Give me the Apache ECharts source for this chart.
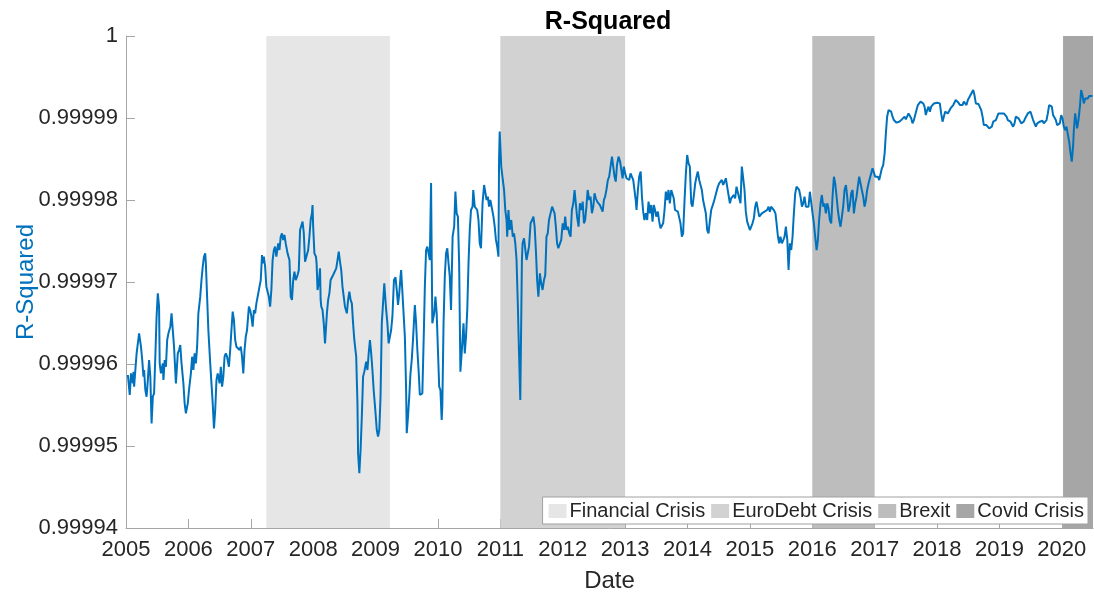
<!DOCTYPE html>
<html>
<head>
<meta charset="utf-8">
<script src="https://cdn.jsdelivr.net/npm/echarts@6/dist/echarts.min.js"></script>
<style>
html,body{margin:0;padding:0;background:#fff;}
#chart{width:1094px;height:602px;}
</style>
</head>
<body>
<div id="chart"></div>
<script>
// Decimal-year dates of the R-Squared series
const dates = [
2005.03,2005.05,2005.06,2005.08,2005.11,2005.12,2005.13,2005.15,2005.17,2005.19,
2005.21,2005.24,2005.26,2005.28,2005.29,2005.31,2005.33,2005.35,2005.37,2005.39,
2005.41,2005.43,2005.45,2005.47,2005.49,2005.51,2005.53,2005.54,2005.56,2005.59,
2005.60,2005.62,2005.64,2005.66,2005.68,2005.71,2005.73,2005.75,2005.77,2005.80,
2005.83,2005.85,2005.87,2005.89,2005.92,2005.94,2005.96,2005.99,2006.01,2006.04,
2006.06,2006.08,2006.10,2006.12,2006.14,2006.16,2006.19,2006.21,2006.23,2006.25,
2006.27,2006.28,2006.30,2006.32,2006.35,2006.37,2006.39,2006.41,2006.43,2006.45,
2006.47,2006.50,2006.52,2006.54,2006.56,2006.58,2006.60,2006.62,2006.65,2006.67,
2006.69,2006.71,2006.73,2006.75,2006.77,2006.79,2006.82,2006.84,2006.86,2006.88,
2006.90,2006.92,2006.94,2006.97,2006.99,2007.01,2007.03,2007.05,2007.07,2007.09,
2007.12,2007.14,2007.16,2007.18,2007.19,2007.21,2007.23,2007.25,2007.29,2007.31,
2007.33,2007.35,2007.37,2007.39,2007.41,2007.44,2007.46,2007.48,2007.50,2007.52,
2007.54,2007.56,2007.59,
2007.62,2007.64,2007.66,2007.68,2007.70,2007.72,2007.75,2007.77,2007.79,2007.81,
2007.83,2007.85,2007.87,2007.90,2007.92,2007.94,2007.96,2007.98,2007.99,2008.00,
2008.02,2008.045,2008.055,2008.07,2008.09,2008.11,2008.12,2008.13,2008.15,2008.17,
2008.19,2008.22,2008.24,2008.26,2008.28,2008.30,2008.32,2008.34,2008.37,2008.39,
2008.41,2008.43,2008.45,2008.47,2008.49,2008.51,2008.54,2008.56,2008.58,2008.60,
2008.62,2008.64,2008.66,2008.69,2008.71,2008.72,2008.74,2008.76,2008.78,2008.80,
2008.82,2008.85,2008.87,2008.89,2008.91,2008.93,2008.95,2008.97,2008.996,2009.02,
2009.04,2009.06,2009.08,2009.10,2009.12,2009.14,2009.17,2009.19,2009.21,2009.23,
2009.25,2009.27,2009.295,2009.32,2009.34,2009.36,2009.38,2009.40,2009.41,2009.43,
2009.44,2009.47,2009.49,2009.50,2009.52,2009.54,2009.56,2009.58,2009.60,2009.63,
2009.65,2009.67,2009.69,2009.71,2009.73,2009.75,2009.775,2009.79,2009.81,2009.83,
2009.85,2009.87,2009.88,2009.89,2009.90,2009.91,2009.94,2009.96,2009.98,2010.00,
2010.02,2010.04,2010.06,2010.07,2010.09,2010.11,2010.13,2010.15,2010.17,2010.19,
2010.21,
2010.235,2010.26,2010.28,2010.30,2010.32,2010.34,2010.36,2010.38,2010.41,2010.43,
2010.45,2010.47,2010.49,2010.51,2010.53,2010.555,2010.566,2010.59,2010.61,2010.63,
2010.65,2010.67,2010.69,2010.715,2010.74,2010.76,2010.78,2010.80,2010.82,2010.84,
2010.865,2010.89,2010.91,2010.93,2010.95,2010.97,2010.98,2010.99,2011.015,2011.04,
2011.06,2011.08,2011.10,2011.11,2011.13,2011.15,2011.175,2011.20,2011.22,2011.24,
2011.26,2011.28,2011.30,2011.32,2011.335,2011.346,2011.357,2011.38,2011.40,2011.42,
2011.44,2011.46,2011.485,2011.51,2011.53,2011.55,2011.57,2011.59,2011.61,2011.634,
2011.655,2011.677,2011.70,2011.72,2011.74,2011.76,2011.78,2011.805,2011.83,2011.85,
2011.87,2011.89,2011.91,2011.93,2011.955,2011.976,2012.00,2012.02,2012.04,2012.06,
2012.083,2012.105,2012.126,2012.147,2012.17,2012.19,2012.21,2012.23,2012.254,2012.275,
2012.30,2012.32,2012.34,2012.36,2012.38,2012.40,2012.425,2012.446,2012.468,2012.49,
2012.51,2012.53,2012.553,2012.575,2012.596,2012.617,2012.64,2012.66,2012.68,2012.70,
2012.724,2012.745,2012.767,2012.79,
2012.81,2012.83,2012.85,2012.87,2012.895,2012.92,2012.94,2012.96,2012.98,2013.00,
2013.023,2013.045,2013.066,2013.087,2013.11,2013.13,2013.15,2013.173,2013.183,2013.205,
2013.226,2013.25,2013.27,2013.29,2013.31,2013.333,2013.354,2013.376,2013.397,2013.418,
2013.44,2013.46,2013.48,2013.50,2013.525,2013.547,2013.568,2013.59,2013.61,2013.632,
2013.653,2013.675,2013.696,2013.717,2013.74,2013.76,2013.78,2013.80,2013.824,2013.846,
2013.867,2013.888,2013.91,2013.93,2013.953,2013.974,2013.995,2014.017,2014.038,2014.06,
2014.08,2014.10,2014.124,2014.145,2014.166,2014.188,2014.21,2014.23,2014.25,2014.273,
2014.294,2014.316,2014.337,2014.36,2014.38,2014.40,2014.423,2014.444,2014.465,2014.487,
2014.508,2014.53,2014.55,2014.572,2014.594,2014.615,2014.636,2014.658,2014.68,2014.70,
2014.72,2014.743,2014.764,2014.786,2014.807,2014.829,2014.85,2014.871,2014.89,2014.914,
2014.935,2014.957,2014.978,2015.00,2015.02,2015.042,2015.064,2015.085,2015.106,2015.128,
2015.15,2015.17,2015.192,2015.213,2015.235,2015.256,2015.277,2015.30,2015.32,2015.341,
2015.362,2015.384,
2015.41,2015.428,2015.45,2015.47,2015.49,2015.513,2015.535,2015.556,2015.577,2015.60,
2015.62,2015.641,2015.663,2015.684,2015.705,2015.727,2015.748,2015.77,2015.79,2015.812,
2015.834,2015.855,2015.876,2015.898,2015.919,2015.94,2015.962,2015.983,2016.005,2016.026,
2016.047,2016.07,2016.09,2016.11,2016.133,2016.154,2016.176,2016.197,2016.218,2016.24,
2016.26,2016.282,2016.304,2016.325,2016.347,2016.368,2016.39,2016.41,2016.432,2016.453,
2016.475,2016.496,2016.517,2016.54,2016.56,2016.58,2016.603,2016.624,2016.646,2016.667,
2016.688,2016.71,2016.73,2016.752,2016.774,2016.795,2016.817,2016.838,2016.86,2016.88,
2016.902,2016.923,2016.945,2016.966,2016.988,2017.009,2017.03,2017.052,2017.073,2017.094,
2017.116,2017.137,2017.16,2017.18,2017.20,2017.223,2017.244,2017.265,2017.287,2017.308,
2017.33,2017.35,2017.372,2017.394,2017.415,2017.436,2017.458,2017.48,2017.50,2017.52,
2017.543,2017.565,2017.586,2017.607,2017.629,2017.65,2017.671,2017.693,2017.714,2017.735,
2017.757,2017.778,2017.80,2017.82,2017.842,2017.864,2017.885,2017.906,2017.928,2017.95,
2017.97,2018.00,
2018.024,2018.045,2018.066,2018.088,2018.11,2018.13,2018.152,2018.173,2018.195,2018.216,
2018.237,2018.26,2018.28,2018.30,2018.323,2018.344,2018.366,2018.387,2018.408,2018.43,
2018.45,2018.472,2018.494,2018.515,2018.537,2018.558,2018.58,2018.60,2018.622,2018.643,
2018.665,2018.686,2018.708,2018.73,2018.75,2018.77,2018.793,2018.814,2018.836,2018.857,
2018.878,2018.90,2018.921,2018.943,2018.964,2018.985,2019.007,2019.028,2019.05,2019.071,
2019.092,2019.114,2019.135,2019.156,2019.178,2019.20,2019.22,2019.242,2019.263,2019.285,
2019.306,2019.327,2019.35,2019.37,2019.39,2019.413,2019.434,2019.455,2019.477,2019.498,
2019.52,2019.54,2019.562,2019.584,2019.605,2019.626,2019.648,2019.67,2019.69,2019.712,
2019.733,2019.755,2019.776,2019.797,2019.82,2019.84,2019.86,2019.883,2019.904,2019.925,
2019.947,2019.968,2019.99,2020.011,2020.032,2020.054,2020.075,2020.097,2020.118,2020.14,
2020.16,2020.171,2020.182,2020.193,2020.214,2020.235,2020.246,2020.267,2020.29,2020.31,
2020.331,2020.353,2020.374,2020.396,2020.417,2020.438,2020.47,2020.492
];

// R-Squared values
const rSquared = [
0.99995866,0.99995845,0.99995622,0.99995886,0.99995764,0.99995906,0.99995723,0.99995927,0.9999613,0.9999615,
0.99996374,0.99996211,0.99996049,0.99995845,0.99995927,0.99995683,0.99995601,0.99995805,0.99996049,0.99995845,
0.99995276,0.99995601,0.99995642,0.99996089,0.99996577,0.99996862,0.99996699,0.99996008,0.99995886,0.99996008,
0.99995805,0.99996049,0.99995967,0.99996293,0.99996374,0.99996455,0.99996618,0.99996414,0.99996211,0.99995764,
0.9999613,0.99996171,0.99996232,0.99996008,0.99995764,0.9999552,0.99995398,0.9999552,0.99995683,0.99995886,
0.99996089,0.99995927,0.9999613,0.99996008,0.99996211,0.99996618,0.99996821,0.99997024,0.99997187,0.99997309,
0.99997349,0.99997227,0.99996821,0.99996414,0.99996008,0.99995764,0.9999552,0.99995215,0.99995439,0.99995805,
0.99995886,0.99995764,0.99995967,0.99995723,0.99995845,0.99996089,0.9999613,0.99996089,0.99995967,0.99996171,
0.99996414,0.99996638,0.99996536,0.99996293,0.99996211,0.99996232,0.99996171,0.99996211,0.99996089,0.99995886,
0.99996171,0.99996333,0.99996414,0.99996699,0.99996658,0.99996577,0.99996455,0.99996658,0.99996618,0.9999674,
0.99996862,0.99996943,0.99997024,0.99997329,0.99997227,0.99997309,0.99997187,0.99996943,0.99996821,0.99996699,
0.99996902,0.99997268,0.9999739,0.99997431,0.99997309,0.99997471,0.9999739,0.99997553,0.99997593,0.99997512,
0.99997573,0.99997471,0.99997349,
0.99997268,0.99996821,0.99996781,0.99997024,0.99997126,0.99997024,0.99997085,0.99997146,0.99997634,0.99997655,
0.99997736,0.99997594,0.99997248,0.99997268,0.9999739,0.99997553,0.99997756,0.99997837,0.99997939,0.99997675,
0.9999735,0.99997309,0.99997228,0.99996902,0.99996984,0.99997167,0.99996781,0.99996699,0.99996659,0.99996496,
0.99996252,0.99996618,0.99996781,0.99996862,0.99997024,0.99997045,0.99997085,0.99997106,0.99997167,0.99997268,
0.9999737,0.99997248,0.99997146,0.99996943,0.99996943,0.99996699,0.99996618,0.99996781,0.99996882,0.99996781,
0.9999674,0.99996496,0.99996293,0.99996089,0.9999552,0.99994911,0.99994667,0.99994951,0.99995358,0.99995846,
0.99995907,0.99996029,0.99995927,0.9999613,0.99996293,0.9999613,0.99995927,0.99995683,0.99995439,0.99995195,
0.99995114,0.99995195,0.99995602,0.99996496,0.9999674,0.99996984,0.99996659,0.99996496,0.99996252,0.99996272,
0.99996415,0.99996577,0.99997024,0.99997057,0.99996902,0.9999672,0.99996862,0.99997065,0.99997146,0.99996882,
0.99996862,0.99996333,0.99995683,0.99995155,0.99995358,0.99995602,0.99995886,0.99996049,0.99996293,0.9999672,
0.99996496,0.99996171,0.99995927,0.99995622,0.99995642,0.99995642,0.99996415,0.99996943,0.9999739,0.99997431,
0.99997451,0.99997268,0.99997756,0.99998207,0.99997309,0.99996496,0.99996618,0.99996821,0.99996618,0.99996171,
0.99995724,0.99995683,0.99995317,0.9999548,0.99996496,0.99997065,0.9999735,0.99997411,0.99997228,0.99997065,
0.99996659,
0.99997553,0.99997675,0.99998102,0.99997838,0.99997797,0.99997228,0.99995907,0.9999613,0.99996496,0.9999613,
0.99996334,0.99996659,0.99997228,0.99997635,0.99997878,0.99997919,0.99998122,0.99997919,0.99997899,0.99997878,
0.99997756,0.99997472,0.99997411,0.9999796,0.99998183,0.99998204,0.99998,0.99998041,0.99997919,0.99998,
0.99997899,0.99997797,0.99997675,0.99997513,0.99997431,0.99997309,0.99998509,0.99998834,0.99998407,0.99998244,
0.99998122,0.99997878,0.99997756,0.99997553,0.99997878,0.99997635,0.99997756,0.99997553,0.99997594,0.99997472,
0.99997269,0.9999674,0.9999613,0.99995561,0.99996537,0.99997269,0.99997472,0.99997533,0.99997513,0.99997269,
0.9999735,0.99997431,0.99997716,0.99997756,0.99997797,0.99997675,0.99997391,0.99997025,0.99996822,0.99997106,
0.99996984,0.99996903,0.99997025,0.99997086,0.99997553,0.99997594,0.99997756,0.99997777,0.99997919,0.99997899,
0.99997838,0.99997675,0.99997472,0.99997411,0.99997411,0.99997513,0.99997716,0.99997635,0.99997797,0.99997635,
0.99997675,0.99997594,0.99997553,0.99997878,0.9999796,0.99998122,0.9999796,0.99997797,0.99997675,0.9999796,
0.99997878,0.9999798,0.99997716,0.99997756,0.99997919,0.99998122,0.99998,0.99998041,0.99997838,0.99997919,
0.99998082,0.99998021,0.9999798,0.9999798,0.99997939,0.99997919,0.99997858,0.99998,0.99998041,0.99998122,
0.99998244,0.99998285,0.99998407,0.99998529,
0.99998508,0.99998285,0.99998224,0.99998427,0.99998529,0.99998468,0.99998366,0.99998265,0.99998407,0.99998325,
0.99998265,0.99998285,0.99998244,0.99998325,0.99998305,0.99998244,0.99998122,0.9999798,0.99997878,0.99998122,
0.99998285,0.99998346,0.99998041,0.99997858,0.99997756,0.99997838,0.99997756,0.9999798,0.99997838,0.99997939,
0.99997736,0.99997939,0.99997878,0.99997797,0.99997858,0.99997736,0.99997655,0.99997675,0.99997716,0.99997878,
0.99998102,0.99998,0.99998122,0.9999796,0.99998122,0.99998122,0.99998021,0.99997878,0.99997878,0.99997858,
0.99997878,0.99997716,0.99997553,0.99997594,0.99998,0.99998325,0.99998549,0.99998447,0.99998407,0.9999796,
0.99997919,0.99998041,0.99998204,0.99998285,0.99998346,0.99998244,0.99998224,0.99998122,0.99998,0.9999798,
0.99997838,0.99997634,0.99997594,0.99997756,0.99997878,0.99997878,0.9999798,0.99998041,0.99998102,0.99998163,
0.99998204,0.99998224,0.99998244,0.99998183,0.99998204,0.99998265,0.99998163,0.99998061,0.9999796,0.99998021,
0.99998041,0.99998061,0.99998021,0.99998163,0.99998163,0.99998021,0.9999796,0.99998407,0.99998285,0.99998122,
0.99997858,0.99997736,0.99997716,0.99997634,0.99997655,0.99997716,0.99997777,0.99997919,0.9999798,0.99998,
0.99997797,0.99997777,0.99997838,0.99997817,0.99997858,0.99997878,0.99997878,0.99997919,0.99997858,0.99997919,
0.99997899,0.99997878,
0.99997837,0.99997715,0.99997552,0.99997471,0.99997552,0.99997471,0.99997512,0.99997552,0.99997674,0.99997512,
0.99997146,0.99997471,0.9999739,0.99997552,0.99997837,0.99998081,0.99998162,0.99998183,0.99998122,0.9999804,
0.99997918,0.99997959,0.9999804,0.99997918,0.99997939,0.99997918,0.99998101,0.99998081,0.99997837,0.99997715,
0.99997552,0.9999739,0.99997512,0.99997756,0.99997959,0.99998061,0.99997918,0.99997959,0.99997837,0.99997959,
0.99997898,0.99997756,0.99997715,0.9999804,0.99998284,0.99998203,0.9999804,0.99997878,0.99997756,0.99997674,
0.99997796,0.99997918,0.99998122,0.99998183,0.9999804,0.99997857,0.99997939,0.99998081,0.99998122,0.99997837,
0.99997959,0.9999804,0.99998162,0.99998284,0.99998284,0.99998122,0.9999804,0.99997918,0.99998,0.99998122,
0.99998203,0.99998264,0.99998325,0.99998386,0.99998386,0.99998284,0.99998264,0.99998284,0.99998243,0.99998243,
0.99998386,0.99998426,0.99998569,0.99998813,0.99999016,0.99999097,0.99999105,0.99999077,0.99999016,0.99998975,
0.99998955,0.99998943,0.99998955,0.99998955,0.99998975,0.99998983,0.99998975,0.99999016,0.99998983,0.99998996,
0.99999056,0.99999056,0.99998996,0.99998935,0.99998975,0.99999036,0.99999097,0.99999158,0.99999178,0.99999199,
0.99999219,0.99999178,0.99999138,0.99999036,0.99999097,0.99999138,0.99999077,0.99999138,0.99999158,0.99999178,
0.99999199,0.99999187,
0.99999199,0.99999178,0.99999056,0.99998955,0.99998943,0.99999077,0.99999097,0.99999056,0.99999077,0.99999117,
0.99999097,0.99999158,0.99999178,0.99999219,0.99999239,0.99999187,0.99999158,0.99999178,0.99999158,0.99999199,
0.99999178,0.99999158,0.99999219,0.99999219,0.9999928,0.999993,0.99999341,0.9999928,0.99999178,0.99999187,
0.9999917,0.9999917,0.99999097,0.99999016,0.99998914,0.99998894,0.99998914,0.99998894,0.99998874,0.99998853,
0.99998894,0.99998955,0.99998935,0.99998975,0.99998996,0.99999056,0.99999077,0.99999056,0.99999077,0.99999056,
0.99999077,0.99999016,0.99998975,0.99998996,0.99998955,0.99998975,0.99998894,0.99998935,0.99999016,0.99999024,
0.99998996,0.99998975,0.99998935,0.99998955,0.99998955,0.99998996,0.99999016,0.99999056,0.99999077,0.99999077,
0.99999065,0.99998975,0.99998935,0.99998894,0.99998935,0.99998955,0.99998955,0.99998975,0.99998967,0.99998935,
0.99998914,0.99998975,0.99999056,0.99999158,0.99999178,0.99999138,0.99999036,0.99999016,0.99998975,0.99998914,
0.99998894,0.99998935,0.99999036,0.99998996,0.99998894,0.99998853,0.99998894,0.99998874,0.99998711,0.99998569,
0.99998467,0.99998487,0.9999867,0.99998853,0.99999056,0.99999077,0.99998874,0.99998975,0.99999138,0.99999341,
0.9999928,0.99999178,0.99999239,0.9999926,0.99999239,0.99999268,0.9999926,0.99999268
];

// Crisis periods (decimal years)
const crisisNames = ['Financial Crisis', 'EuroDebt Crisis', 'Brexit', 'Covid Crisis'];
const crisisStart = [2007.25, 2011.0, 2016.0, 2020.02];
const crisisEnd   = [2009.23, 2013.0, 2017.0, 2020.5];
const crisisColors = ['#e6e6e6', '#d2d2d2', '#bdbdbd', '#a6a6a6'];

// Axis ticks
const yearTicks = [2005,2006,2007,2008,2009,2010,2011,2012,2013,2014,2015,2016,2017,2018,2019,2020];
const yTicks = [0.99994, 0.99995, 0.99996, 0.99997, 0.99998, 0.99999, 1];

const FONT = '"Liberation Sans", Arial, Helvetica, sans-serif';
const TXT = '#262626';
const AX = '#a6a6a6';

const chart = echarts.init(document.getElementById('chart'), null, {renderer: 'canvas'});

const areaSeries = crisisNames.map((n, i) => ({
  name: n,
  type: 'line',
  data: [],
  itemStyle: {color: crisisColors[i]},
  lineStyle: {color: crisisColors[i]},
  markArea: {
    silent: true,
    itemStyle: {color: crisisColors[i]},
    data: [[{xAxis: crisisStart[i]}, {xAxis: crisisEnd[i]}]]
  },
  z: 1
}));

const lineData = dates.map((d, i) => [d, rSquared[i]]);

chart.setOption({
  animation: false,
  backgroundColor: '#ffffff',
  textStyle: {fontFamily: FONT},
  title: {
    text: 'R-Squared',
    left: 603,
    textAlign: 'center',
    top: 5,
    textStyle: {fontFamily: FONT, fontSize: 25, fontWeight: 'bold', color: '#000'}
  },
  grid: {left: 126, right: 1, top: 36, bottom: 74, containLabel: false},
  legend: {
    data: crisisNames.map((n, i) => ({name: n, icon: 'rect', itemStyle: {color: crisisColors[i]}})),
    right: 6,
    bottom: 78,
    orient: 'horizontal',
    itemWidth: 18,
    itemHeight: 14,
    itemGap: 6,
    padding: [4, 4, 3, 6],
    backgroundColor: '#ffffff',
    borderColor: '#a0a0a0',
    borderWidth: 1,
    textStyle: {fontFamily: FONT, fontSize: 20, color: TXT, padding: [0, 0, 0, -2]},
    selectedMode: false
  },
  xAxis: {
    type: 'value',
    min: yearTicks[0],
    max: 2020.5,
    interval: 1,
    name: 'Date',
    nameLocation: 'middle',
    nameGap: 41,
    nameTextStyle: {fontFamily: FONT, fontSize: 24, color: TXT},
    axisLine: {show: true, lineStyle: {color: AX, width: 1}},
    axisTick: {show: true, inside: true, length: 9, lineStyle: {color: AX}},
    axisLabel: {
      fontFamily: FONT, fontSize: 22, color: TXT, margin: 11,
      showMaxLabel: false,
      formatter: v => (yearTicks.indexOf(Math.round(v)) >= 0 && Math.abs(v - Math.round(v)) < 1e-6) ? String(Math.round(v)) : ''
    },
    splitLine: {show: false}
  },
  yAxis: {
    type: 'value',
    min: yTicks[0],
    max: yTicks[yTicks.length - 1],
    interval: 0.00001,
    name: 'R-Squared',
    nameLocation: 'middle',
    nameGap: 88,
    nameRotate: 90,
    nameMoveOverlap: false,
    nameTextStyle: {fontFamily: FONT, fontSize: 24, color: '#0072BD'},
    axisLine: {show: true, lineStyle: {color: AX, width: 1}},
    axisTick: {show: true, inside: true, length: 9, lineStyle: {color: AX}},
    axisLabel: {
      fontFamily: FONT, fontSize: 22, color: TXT, margin: 8,
      formatter: v => String(parseFloat(v.toFixed(5)))
    },
    splitLine: {show: false}
  },
  series: areaSeries.concat([{
    name: 'R-Squared',
    type: 'line',
    data: lineData,
    showSymbol: false,
    symbol: 'none',
    lineStyle: {color: '#0072BD', width: 2},
    itemStyle: {color: '#0072BD'},
    z: 5
  }])
});
</script>
</body>
</html>
